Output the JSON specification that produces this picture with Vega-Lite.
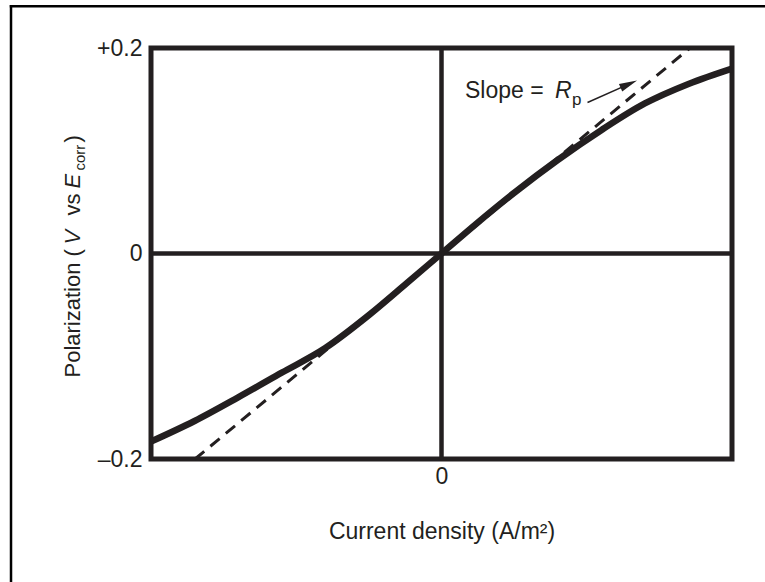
{
  "$schema": "https://vega.github.io/schema/vega-lite/v6.json",
  "width": 581,
  "height": 411,
  "autosize": {"type": "none"},
  "padding": {"left": 151, "top": 48, "right": 33, "bottom": 123},
  "background": "white",
  "config": {
    "font": "Liberation Sans",
    "view": {"stroke": "#231f20", "strokeWidth": 5},
    "axis": {
      "domain": false, "ticks": false, "tickSize": 0, "grid": false,
      "labelFont": "Liberation Sans", "labelFontSize": 23, "labelColor": "#231f20",
      "titleFont": "Liberation Sans", "titleFontSize": 23, "titleFontWeight": "normal", "titleColor": "#231f20"
    },
    "text": {"font": "Liberation Sans", "color": "#231f20"}
  },
  "datasets": {
    "curve": [
      {"x": -1.0, "y": -0.183},
      {"x": -0.85, "y": -0.163},
      {"x": -0.7, "y": -0.140},
      {"x": -0.55, "y": -0.116},
      {"x": -0.4, "y": -0.092},
      {"x": -0.25, "y": -0.060},
      {"x": -0.12, "y": -0.029},
      {"x": 0.0, "y": 0.0},
      {"x": 0.12, "y": 0.029},
      {"x": 0.25, "y": 0.059},
      {"x": 0.4, "y": 0.091},
      {"x": 0.55, "y": 0.120},
      {"x": 0.7, "y": 0.146},
      {"x": 0.85, "y": 0.165},
      {"x": 1.0, "y": 0.180}
    ],
    "tangent": [
      {"x": -0.8485, "y": -0.2},
      {"x": 0.8554, "y": 0.2}
    ]
  },
  "layer": [
    {
      "data": {"values": [{}]},
      "mark": {"type": "rule", "color": "#231f20", "strokeWidth": 4.5},
      "encoding": {"x": {"datum": 0, "type": "quantitative"}}
    },
    {
      "data": {"values": [{}]},
      "mark": {"type": "rule", "color": "#231f20", "strokeWidth": 4.5},
      "encoding": {"y": {"datum": 0, "type": "quantitative"}}
    },
    {
      "data": {"name": "curve"},
      "mark": {"type": "line", "color": "#231f20", "strokeWidth": 6.5, "interpolate": "monotone"},
      "encoding": {
        "x": {
          "field": "x", "type": "quantitative",
          "scale": {"domain": [-1, 1], "nice": false, "zero": false},
          "axis": {"values": [0], "labelExpr": "'0'", "labelPadding": 6, "title": "Current density (A/m²)", "titlePadding": 32}
        },
        "y": {
          "field": "y", "type": "quantitative",
          "scale": {"domain": [-0.2, 0.2], "nice": false, "zero": false},
          "axis": {"values": [-0.2, 0, 0.2], "labelPadding": 9, "title": null,
            "labelExpr": "datum.value > 0 ? '+' + format(datum.value, '.1f') : datum.value < 0 ? '–' + format(abs(datum.value), '.1f') : '0'"}
        }
      }
    },
    {
      "data": {"name": "tangent"},
      "mark": {"type": "line", "color": "#231f20", "strokeWidth": 3, "strokeDash": [12, 8]},
      "encoding": {
        "x": {"field": "x", "type": "quantitative"},
        "y": {"field": "y", "type": "quantitative"}
      }
    },
    {
      "data": {"values": [{}]},
      "mark": {"type": "rule", "color": "#231f20", "strokeWidth": 1.5},
      "encoding": {
        "x": {"datum": 0.5026, "type": "quantitative"},
        "y": {"datum": 0.147, "type": "quantitative"},
        "x2": {"datum": 0.6448},
        "y2": {"datum": 0.1649}
      }
    },
    {
      "data": {"values": [{}]},
      "mark": {"type": "point", "filled": true, "color": "#231f20", "opacity": 1, "shape": "M1,0L-1,-0.45L-1,0.45Z", "size": 324, "angle": 336},
      "encoding": {
        "x": {"datum": 0.6448, "type": "quantitative"},
        "y": {"datum": 0.1649, "type": "quantitative"}
      }
    },
    {
      "data": {"values": [{}]},
      "mark": {"type": "text", "text": "Slope =", "fontSize": 23, "align": "left", "baseline": "alphabetic"},
      "encoding": {
        "x": {"datum": 0.0809, "type": "quantitative"},
        "y": {"datum": 0.1518, "type": "quantitative"}
      }
    },
    {
      "data": {"values": [{}]},
      "mark": {"type": "text", "text": "R", "fontSize": 23, "fontStyle": "italic", "align": "left", "baseline": "alphabetic"},
      "encoding": {
        "x": {"datum": 0.3907, "type": "quantitative"},
        "y": {"datum": 0.1518, "type": "quantitative"}
      }
    },
    {
      "data": {"values": [{}]},
      "mark": {"type": "text", "text": "p", "fontSize": 17, "align": "left", "baseline": "alphabetic"},
      "encoding": {
        "x": {"datum": 0.4492, "type": "quantitative"},
        "y": {"datum": 0.145, "type": "quantitative"}
      }
    },
    {
      "data": {"values": [{}]},
      "mark": {"type": "text", "text": "Polarization (", "fontSize": 22, "angle": 270, "align": "left", "baseline": "alphabetic"},
      "encoding": {
        "x": {"datum": -1.2444, "type": "quantitative"},
        "y": {"datum": -0.1207, "type": "quantitative"}
      }
    },
    {
      "data": {"values": [{}]},
      "mark": {"type": "text", "text": "V", "fontSize": 22, "fontStyle": "italic", "angle": 270, "align": "left", "baseline": "alphabetic"},
      "encoding": {
        "x": {"datum": -1.2444, "type": "quantitative"},
        "y": {"datum": 0.0087, "type": "quantitative"}
      }
    },
    {
      "data": {"values": [{}]},
      "mark": {"type": "text", "text": "vs", "fontSize": 22, "angle": 270, "align": "left", "baseline": "alphabetic"},
      "encoding": {
        "x": {"datum": -1.2444, "type": "quantitative"},
        "y": {"datum": 0.0370, "type": "quantitative"}
      }
    },
    {
      "data": {"values": [{}]},
      "mark": {"type": "text", "text": "E", "fontSize": 22, "fontStyle": "italic", "angle": 270, "align": "left", "baseline": "alphabetic"},
      "encoding": {
        "x": {"datum": -1.2444, "type": "quantitative"},
        "y": {"datum": 0.0632, "type": "quantitative"}
      }
    },
    {
      "data": {"values": [{}]},
      "mark": {"type": "text", "text": "corr", "fontSize": 15, "angle": 270, "align": "left", "baseline": "alphabetic"},
      "encoding": {
        "x": {"datum": -1.2272, "type": "quantitative"},
        "y": {"datum": 0.0808, "type": "quantitative"}
      }
    },
    {
      "data": {"values": [{}]},
      "mark": {"type": "text", "text": ")", "fontSize": 22, "angle": 270, "align": "left", "baseline": "alphabetic"},
      "encoding": {
        "x": {"datum": -1.2444, "type": "quantitative"},
        "y": {"datum": 0.108, "type": "quantitative"}
      }
    },
    {
      "data": {"values": [{}]},
      "mark": {"type": "rule", "color": "#000000", "strokeWidth": 2.5, "strokeCap": "square"},
      "encoding": {
        "x": {"datum": -1.4819, "type": "quantitative"},
        "x2": {"datum": 1.2},
        "y": {"datum": 0.2407, "type": "quantitative"}
      }
    },
    {
      "data": {"values": [{}]},
      "mark": {"type": "rule", "color": "#000000", "strokeWidth": 2.5, "strokeCap": "square"},
      "encoding": {
        "x": {"datum": -1.4819, "type": "quantitative"},
        "y": {"datum": 0.2407, "type": "quantitative"},
        "y2": {"datum": -0.4}
      }
    }
  ]
}
